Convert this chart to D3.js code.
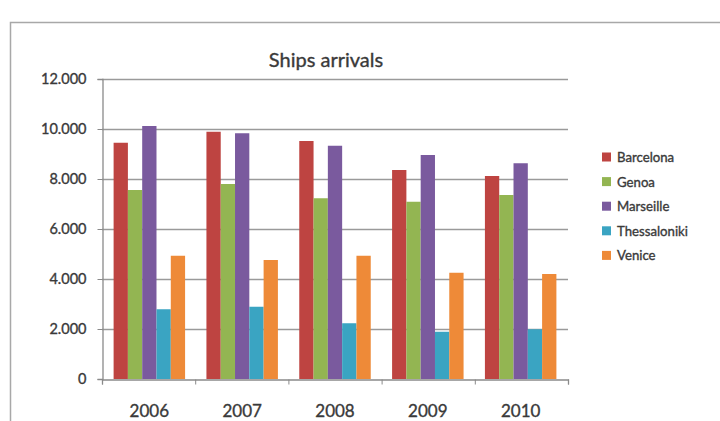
<!DOCTYPE html>
<html><head><meta charset="utf-8">
<script src="https://cdn.jsdelivr.net/npm/d3@7"></script>
<style>
body{margin:0;background:#fff;}
svg text{font-family:Lato,"Open Sans",sans-serif;fill:#3a3a3a;font-weight:400;stroke:#3a3a3a;stroke-width:0.35px;}
</style></head>
<body><svg id="c" width="720" height="421"></svg>
<script>
const years = ["2006","2007","2008","2009","2010"];
const seriesNames = ["Barcelona","Genoa","Marseille","Thessaloniki","Venice"];
const barcelona = [9450, 9890, 9520, 8360, 8120];
const genoa = [7560, 7800, 7230, 7090, 7360];
const marseille = [10120, 9830, 9330, 8960, 8630];
const thessaloniki = [2790, 2890, 2230, 1890, 1990];
const venice = [4930, 4760, 4930, 4250, 4200];
const yTicks = [0, 2000, 4000, 6000, 8000, 10000, 12000];
const colors = ["#BE4441", "#93B552", "#7A5A9E", "#3AA4C2", "#EE8A38"];
const values = [barcelona, genoa, marseille, thessaloniki, venice];

(function(){
const svg = d3.select("#c");
svg.append("rect").attr("x",10.5).attr("y",22.5).attr("width",720).attr("height",420)
  .attr("fill","#fff").attr("stroke","#a8a8a8").attr("stroke-width",1.5);

const pLeft=102, pRight=568, pTop=79, pBottom=379;
const x = d3.scaleBand().domain(years).range([pLeft,pRight]).paddingInner(0.23).paddingOuter(0.125);
const xs = d3.scaleBand().domain(seriesNames).range([0,x.bandwidth()]);
const y = d3.scaleLinear().domain([0,12000]).range([pBottom,pTop]);
const fmt = d => d===0 ? "0" : d3.format(",")(d).replace(",",".");

svg.append("g").selectAll("line").data(yTicks.slice(1)).join("line")
  .attr("x1",pLeft).attr("x2",pRight).attr("y1",d=>y(d)+0.5).attr("y2",d=>y(d)+0.5)
  .attr("stroke","#9a9a9a").attr("stroke-width",1.3);

const ya = svg.append("g").attr("transform",`translate(${pLeft+0.5},0)`)
  .call(d3.axisLeft(y).tickValues(yTicks).tickFormat(fmt).tickSize(5).tickPadding(11));
ya.select(".domain").attr("stroke","#8a8a8a").attr("stroke-width",1.3);
ya.selectAll(".tick line").attr("stroke","#8a8a8a");
ya.selectAll("text").attr("font-size",14.5);

const g = svg.append("g");
years.forEach((yr,i)=>{
  seriesNames.forEach((s,j)=>{
    g.append("rect").attr("x",x(yr)+xs(s)).attr("width",xs.bandwidth())
      .attr("y",y(values[j][i])).attr("height",pBottom-y(values[j][i]))
      .attr("fill",colors[j]);
  });
});

const xa = svg.append("g").attr("transform",`translate(0,${pBottom+0.5})`)
  .call(d3.axisBottom(d3.scaleLinear().domain([0,5]).range([pLeft,pRight])).ticks(5).tickSize(5).tickFormat(""));
xa.select(".domain").attr("stroke","#8a8a8a").attr("stroke-width",1.3);
xa.selectAll(".tick line").attr("stroke","#8a8a8a");
svg.append("g").selectAll("text").data(years).join("text")
  .attr("x",d=>x(d)+x.bandwidth()/2).attr("y",417).attr("text-anchor","middle")
  .attr("font-size",17).text(d=>d);

svg.append("text").attr("x",326).attr("y",67).attr("text-anchor","middle")
  .attr("font-size",20).text("Ships arrivals");

const lg = svg.append("g");
seriesNames.forEach((s,j)=>{
  const ly = 157 + j*24.6;
  lg.append("rect").attr("x",602).attr("y",ly-4.5).attr("width",9).attr("height",9).attr("fill",colors[j]);
  lg.append("text").attr("x",617).attr("y",ly+5).attr("font-size",13.2).text(s);
});
})();
</script></body></html>
